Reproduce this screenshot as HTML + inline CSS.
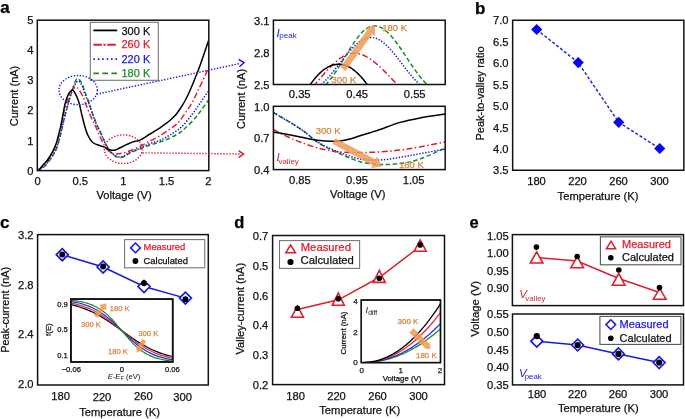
<!DOCTYPE html>
<html><head><meta charset="utf-8"><style>
html,body{margin:0;padding:0;background:#fff;width:685px;height:419px;overflow:hidden}
svg{display:block;will-change:transform}
text{font-family:"Liberation Sans",sans-serif}
</style></head><body>
<svg width="685" height="419" viewBox="0 0 685 419">
<rect width="685" height="419" fill="#fff"/>
<text x="4.90" y="13.09" font-size="17" text-anchor="middle" fill="#000" stroke="#000" stroke-width="0.25" font-weight="bold" font-style="normal">a</text>
<clipPath id="ca"><rect x="37.3" y="20.2" width="171.5" height="150.4"/></clipPath>
<g clip-path="url(#ca)">
<path d="M37.30,170.60 C37.92,170.27 39.72,169.37 41.00,168.60 C42.28,167.83 43.57,167.40 45.00,166.00 C46.43,164.60 48.27,162.03 49.60,160.20 C50.93,158.37 51.93,156.73 53.00,155.00 C54.07,153.27 55.17,151.63 56.00,149.80 C56.83,147.97 57.33,146.13 58.00,144.00 C58.67,141.87 59.33,139.58 60.00,137.00 C60.67,134.42 61.33,131.43 62.00,128.50 C62.67,125.57 63.33,122.23 64.00,119.40 C64.67,116.57 65.33,113.98 66.00,111.50 C66.67,109.02 67.33,106.92 68.00,104.50 C68.67,102.08 69.33,99.25 70.00,97.00 C70.67,94.75 71.25,93.30 72.00,91.00 C72.75,88.70 73.80,85.10 74.50,83.20 C75.20,81.30 75.68,80.33 76.20,79.60 C76.72,78.87 77.08,78.80 77.60,78.80 C78.12,78.80 78.50,78.65 79.30,79.60 C80.10,80.55 81.40,82.25 82.40,84.50 C83.40,86.75 84.18,90.07 85.30,93.10 C86.42,96.13 87.98,99.55 89.10,102.70 C90.22,105.85 90.85,108.70 92.00,112.00 C93.15,115.30 94.67,119.33 96.00,122.50 C97.33,125.67 98.67,128.08 100.00,131.00 C101.33,133.92 102.67,137.17 104.00,140.00 C105.33,142.83 106.67,145.75 108.00,148.00 C109.33,150.25 110.67,152.07 112.00,153.50 C113.33,154.93 114.53,155.93 116.00,156.60 C117.47,157.27 119.30,157.60 120.80,157.50 C122.30,157.40 123.47,156.75 125.00,156.00 C126.53,155.25 127.50,154.17 130.00,153.00 C132.50,151.83 136.67,150.33 140.00,149.00 C143.33,147.67 146.67,146.17 150.00,145.00 C153.33,143.83 156.67,143.17 160.00,142.00 C163.33,140.83 166.67,139.58 170.00,138.00 C173.33,136.42 177.50,134.12 180.00,132.50 C182.50,130.88 182.50,130.67 185.00,128.30 C187.50,125.93 192.33,121.27 195.00,118.30 C197.67,115.33 198.92,113.30 201.00,110.50 C203.08,107.70 206.20,103.33 207.50,101.50 C208.80,99.67 208.58,99.83 208.80,99.50" fill="none" stroke="#1f8a2a" stroke-width="1.5" stroke-dasharray="4.5,2.5"/>
<path d="M37.30,170.60 C37.92,170.22 39.72,169.15 41.00,168.30 C42.28,167.45 43.57,166.88 45.00,165.50 C46.43,164.12 48.27,161.75 49.60,160.00 C50.93,158.25 51.93,156.75 53.00,155.00 C54.07,153.25 55.17,151.42 56.00,149.50 C56.83,147.58 57.33,145.67 58.00,143.50 C58.67,141.33 59.33,139.08 60.00,136.50 C60.67,133.92 61.33,130.92 62.00,128.00 C62.67,125.08 63.33,121.75 64.00,119.00 C64.67,116.25 65.33,113.92 66.00,111.50 C66.67,109.08 67.33,106.83 68.00,104.50 C68.67,102.17 69.33,99.67 70.00,97.50 C70.67,95.33 71.25,93.50 72.00,91.50 C72.75,89.50 73.75,87.08 74.50,85.50 C75.25,83.92 75.92,82.72 76.50,82.00 C77.08,81.28 77.42,81.17 78.00,81.20 C78.58,81.23 79.23,81.23 80.00,82.20 C80.77,83.17 81.72,84.87 82.60,87.00 C83.48,89.13 84.22,92.17 85.30,95.00 C86.38,97.83 87.98,101.08 89.10,104.00 C90.22,106.92 90.85,109.25 92.00,112.50 C93.15,115.75 94.50,119.92 96.00,123.50 C97.50,127.08 99.33,130.42 101.00,134.00 C102.67,137.58 104.33,141.92 106.00,145.00 C107.67,148.08 109.33,150.67 111.00,152.50 C112.67,154.33 114.37,155.25 116.00,156.00 C117.63,156.75 119.30,157.08 120.80,157.00 C122.30,156.92 123.47,156.33 125.00,155.50 C126.53,154.67 127.50,153.22 130.00,152.00 C132.50,150.78 136.67,149.62 140.00,148.20 C143.33,146.78 146.67,144.83 150.00,143.50 C153.33,142.17 156.67,141.62 160.00,140.20 C163.33,138.78 166.38,137.25 170.00,135.00 C173.62,132.75 178.08,130.03 181.70,126.70 C185.32,123.37 188.65,118.90 191.70,115.00 C194.75,111.10 197.37,107.05 200.00,103.30 C202.63,99.55 206.03,94.63 207.50,92.50 C208.97,90.37 208.58,90.83 208.80,90.50" fill="none" stroke="#1a1ad6" stroke-width="1.5" stroke-dasharray="1.4,1.6"/>
<path d="M37.30,170.60 C37.75,170.33 39.05,169.85 40.00,169.00 C40.95,168.15 41.93,166.67 43.00,165.50 C44.07,164.33 45.32,163.33 46.40,162.00 C47.48,160.67 48.43,159.17 49.50,157.50 C50.57,155.83 51.88,153.67 52.80,152.00 C53.72,150.33 54.33,149.00 55.00,147.50 C55.67,146.00 56.17,145.00 56.80,143.00 C57.43,141.00 58.13,138.08 58.80,135.50 C59.47,132.92 60.13,130.42 60.80,127.50 C61.47,124.58 62.13,121.17 62.80,118.00 C63.47,114.83 63.93,111.67 64.80,108.50 C65.67,105.33 66.88,101.92 68.00,99.00 C69.12,96.08 70.42,92.92 71.50,91.00 C72.58,89.08 73.58,88.07 74.50,87.50 C75.42,86.93 76.17,87.10 77.00,87.60 C77.83,88.10 78.55,89.10 79.50,90.50 C80.45,91.90 81.53,93.42 82.70,96.00 C83.87,98.58 85.13,102.55 86.50,106.00 C87.87,109.45 89.47,113.52 90.90,116.70 C92.33,119.88 93.90,122.52 95.10,125.10 C96.30,127.68 97.03,129.72 98.10,132.20 C99.17,134.68 100.35,137.62 101.50,140.00 C102.65,142.38 103.75,144.58 105.00,146.50 C106.25,148.42 107.67,150.33 109.00,151.50 C110.33,152.67 111.67,153.08 113.00,153.50 C114.33,153.92 115.83,153.98 117.00,154.00 C118.17,154.02 118.67,153.83 120.00,153.60 C121.33,153.37 123.33,153.07 125.00,152.60 C126.67,152.13 127.50,151.82 130.00,150.80 C132.50,149.78 136.67,148.13 140.00,146.50 C143.33,144.87 146.67,142.78 150.00,141.00 C153.33,139.22 156.67,137.80 160.00,135.80 C163.33,133.80 166.95,131.22 170.00,129.00 C173.05,126.78 175.80,125.12 178.30,122.50 C180.80,119.88 182.77,116.50 185.00,113.30 C187.23,110.10 189.48,107.18 191.70,103.30 C193.92,99.42 195.95,94.88 198.30,90.00 C200.65,85.12 204.05,77.75 205.80,74.00 C207.55,70.25 208.30,68.58 208.80,67.50" fill="none" stroke="#dc1f2e" stroke-width="1.5" stroke-dasharray="6,2.5,1.5,2.5"/>
<path d="M37.30,170.60 C37.75,170.27 39.05,169.53 40.00,168.60 C40.95,167.67 41.93,166.18 43.00,165.00 C44.07,163.82 45.32,162.83 46.40,161.50 C47.48,160.17 48.43,158.68 49.50,157.00 C50.57,155.32 51.88,153.15 52.80,151.40 C53.72,149.65 54.33,148.10 55.00,146.50 C55.67,144.90 56.17,143.88 56.80,141.80 C57.43,139.72 58.13,136.67 58.80,134.00 C59.47,131.33 60.13,128.88 60.80,125.80 C61.47,122.72 62.13,118.97 62.80,115.50 C63.47,112.03 64.13,107.92 64.80,105.00 C65.47,102.08 66.02,100.08 66.80,98.00 C67.58,95.92 68.57,93.85 69.50,92.50 C70.43,91.15 71.48,89.82 72.40,89.90 C73.32,89.98 74.15,91.57 75.00,93.00 C75.85,94.43 76.77,96.67 77.50,98.50 C78.23,100.33 78.65,101.17 79.40,104.00 C80.15,106.83 81.07,111.67 82.00,115.50 C82.93,119.33 84.00,123.67 85.00,127.00 C86.00,130.33 86.72,132.92 88.00,135.50 C89.28,138.08 90.72,140.82 92.70,142.50 C94.68,144.18 98.02,144.85 99.90,145.60 C101.78,146.35 102.57,146.40 104.00,147.00 C105.43,147.60 107.17,148.65 108.50,149.20 C109.83,149.75 110.83,150.17 112.00,150.30 C113.17,150.43 114.17,150.42 115.50,150.00 C116.83,149.58 117.85,148.83 120.00,147.80 C122.15,146.77 125.90,144.88 128.40,143.80 C130.90,142.72 133.07,141.92 135.00,141.30 C136.93,140.68 137.50,141.32 140.00,140.10 C142.50,138.88 146.67,136.05 150.00,134.00 C153.33,131.95 157.33,129.55 160.00,127.80 C162.67,126.05 164.17,124.88 166.00,123.50 C167.83,122.12 169.33,121.00 171.00,119.50 C172.67,118.00 174.33,116.50 176.00,114.50 C177.67,112.50 179.33,110.08 181.00,107.50 C182.67,104.92 184.50,101.83 186.00,99.00 C187.50,96.17 188.50,93.92 190.00,90.50 C191.50,87.08 193.33,82.67 195.00,78.50 C196.67,74.33 198.42,69.83 200.00,65.50 C201.58,61.17 203.03,56.75 204.50,52.50 C205.97,48.25 208.08,42.08 208.80,40.00" fill="none" stroke="#000" stroke-width="1.5"/>
</g>
<rect x="37.30" y="20.20" width="171.50" height="150.40" fill="none" stroke="#111" stroke-width="1.5"/>
<text x="33.50" y="174.61" font-size="11.2" text-anchor="end" fill="#111" stroke="#111" stroke-width="0.25" font-weight="normal" font-style="normal">0</text>
<text x="33.50" y="144.53" font-size="11.2" text-anchor="end" fill="#111" stroke="#111" stroke-width="0.25" font-weight="normal" font-style="normal">1</text>
<text x="33.50" y="114.45" font-size="11.2" text-anchor="end" fill="#111" stroke="#111" stroke-width="0.25" font-weight="normal" font-style="normal">2</text>
<text x="33.50" y="84.37" font-size="11.2" text-anchor="end" fill="#111" stroke="#111" stroke-width="0.25" font-weight="normal" font-style="normal">3</text>
<text x="33.50" y="54.29" font-size="11.2" text-anchor="end" fill="#111" stroke="#111" stroke-width="0.25" font-weight="normal" font-style="normal">4</text>
<text x="33.50" y="24.21" font-size="11.2" text-anchor="end" fill="#111" stroke="#111" stroke-width="0.25" font-weight="normal" font-style="normal">5</text>
<text x="37.50" y="185.21" font-size="11.2" text-anchor="middle" fill="#111" stroke="#111" stroke-width="0.25" font-weight="normal" font-style="normal">0</text>
<text x="80.30" y="185.21" font-size="11.2" text-anchor="middle" fill="#111" stroke="#111" stroke-width="0.25" font-weight="normal" font-style="normal">0.5</text>
<text x="123.30" y="185.21" font-size="11.2" text-anchor="middle" fill="#111" stroke="#111" stroke-width="0.25" font-weight="normal" font-style="normal">1</text>
<text x="166.50" y="185.21" font-size="11.2" text-anchor="middle" fill="#111" stroke="#111" stroke-width="0.25" font-weight="normal" font-style="normal">1.5</text>
<text x="208.30" y="185.21" font-size="11.2" text-anchor="middle" fill="#111" stroke="#111" stroke-width="0.25" font-weight="normal" font-style="normal">2</text>
<text x="124.10" y="199.31" font-size="11.2" text-anchor="middle" fill="#111" stroke="#111" stroke-width="0.25" font-weight="normal" font-style="normal">Voltage (V)</text>
<text x="0" y="0" font-size="11" text-anchor="middle" fill="#111" stroke="#111" stroke-width="0.25" font-weight="normal" transform="translate(18.39 96.00) rotate(-90)">Current (nA)</text>
<rect x="90.30" y="22.30" width="68.00" height="58.00" fill="#fff" stroke="#777" stroke-width="1.1"/>
<line x1="93.4" y1="30.40" x2="117.2" y2="30.40" stroke="#000" stroke-width="1.8"/>
<text x="121.50" y="34.84" font-size="11" text-anchor="start" fill="#111" stroke="#111" stroke-width="0.25" font-weight="normal" font-style="normal">300 K</text>
<line x1="93.4" y1="44.75" x2="117.2" y2="44.75" stroke="#dc1f2e" stroke-width="1.8" stroke-dasharray="8.5,1.6,2.2,1.6"/>
<text x="121.50" y="47.69" font-size="11" text-anchor="start" fill="#dc1f2e" stroke="#dc1f2e" stroke-width="0.25" font-weight="normal" font-style="normal">260 K</text>
<line x1="93.4" y1="59.10" x2="117.2" y2="59.10" stroke="#1a1ad6" stroke-width="1.8" stroke-dasharray="1.6,2.8"/>
<text x="121.50" y="63.04" font-size="11" text-anchor="start" fill="#1a1ad6" stroke="#1a1ad6" stroke-width="0.25" font-weight="normal" font-style="normal">220 K</text>
<line x1="93.4" y1="73.45" x2="117.2" y2="73.45" stroke="#1f8a2a" stroke-width="1.8" stroke-dasharray="5.6,3.4"/>
<text x="121.50" y="77.39" font-size="11" text-anchor="start" fill="#1f8a2a" stroke="#1f8a2a" stroke-width="0.25" font-weight="normal" font-style="normal">180 K</text>
<ellipse cx="78.2" cy="90.1" rx="19.2" ry="14.6" fill="none" stroke="#1a1ad6" stroke-width="1.4" stroke-dasharray="1.4,1.6"/>
<ellipse cx="123.3" cy="149.2" rx="19" ry="14.3" fill="none" stroke="#dc1f2e" stroke-width="1.4" stroke-dasharray="1.4,1.6"/>
<line x1="96.6" y1="94.2" x2="240" y2="63.5" stroke="#1a1ad6" stroke-width="1.4" stroke-dasharray="1.4,1.6"/>
<path d="M238.6,59.4 L244,62.7 L239.4,66.8" fill="none" stroke="#1a1ad6" stroke-width="1.5"/>
<line x1="142.3" y1="152.8" x2="240" y2="154" stroke="#dc1f2e" stroke-width="1.4" stroke-dasharray="1.4,1.6"/>
<path d="M238.6,150.6 L243.5,154.1 L238.6,157.6" fill="none" stroke="#dc1f2e" stroke-width="1.5"/>
<clipPath id="cu"><rect x="273.4" y="20.2" width="171.8" height="64.3"/></clipPath>
<g clip-path="url(#cu)">
<path d="M273.40,142.03 C273.76,141.64 274.83,140.47 275.55,139.68 C276.26,138.90 276.98,138.12 277.69,137.34 C278.41,136.55 279.13,135.77 279.84,134.99 C280.56,134.20 281.27,133.42 281.99,132.64 C282.71,131.85 283.42,131.07 284.14,130.29 C284.85,129.51 285.57,128.72 286.28,127.94 C287.00,127.16 287.72,126.37 288.43,125.59 C289.15,124.81 289.86,124.02 290.58,123.24 C291.30,122.46 292.01,121.68 292.73,120.89 C293.44,120.11 294.16,119.33 294.88,118.54 C295.59,117.76 296.31,116.98 297.02,116.20 C297.74,115.41 298.45,114.63 299.17,113.85 C299.89,113.06 300.60,112.28 301.32,111.50 C302.03,110.71 302.75,109.93 303.46,109.15 C304.18,108.37 304.90,107.58 305.61,106.80 C306.33,106.02 307.04,105.23 307.76,104.45 C308.48,103.67 309.19,102.88 309.91,102.10 C310.62,101.32 311.34,100.54 312.05,99.75 C312.77,98.97 313.49,98.19 314.20,97.40 C314.92,96.62 315.63,95.84 316.35,95.06 C317.07,94.27 317.78,93.49 318.50,92.71 C319.21,91.92 319.93,91.14 320.64,90.36 C321.36,89.57 322.08,88.79 322.79,88.01 C323.51,87.23 324.22,86.45 324.94,85.66 C325.66,84.87 326.37,84.11 327.09,83.28 C327.80,82.46 328.52,81.61 329.23,80.72 C329.95,79.84 330.67,78.91 331.38,77.96 C332.10,77.01 332.81,76.02 333.53,75.01 C334.25,73.99 334.96,72.95 335.68,71.88 C336.39,70.81 337.11,69.72 337.82,68.61 C338.54,67.49 339.26,66.35 339.97,65.21 C340.69,64.06 341.40,62.89 342.12,61.72 C342.84,60.55 343.55,59.36 344.27,58.18 C344.98,57.00 345.70,55.81 346.41,54.63 C347.13,53.45 347.85,52.27 348.56,51.11 C349.28,49.94 349.99,48.79 350.71,47.66 C351.43,46.52 352.14,45.41 352.86,44.32 C353.57,43.24 354.29,42.17 355.00,41.14 C355.72,40.12 356.44,39.12 357.15,38.17 C357.87,37.22 358.58,36.30 359.30,35.44 C360.02,34.58 360.73,33.75 361.45,32.99 C362.16,32.23 362.88,31.51 363.59,30.86 C364.31,30.20 365.03,29.60 365.74,29.07 C366.46,28.53 367.17,28.06 367.89,27.65 C368.61,27.24 369.32,26.90 370.04,26.62 C370.75,26.35 371.47,26.14 372.18,26.00 C372.90,25.87 373.62,25.80 374.33,25.80 C375.05,25.80 375.76,25.86 376.48,25.98 C377.20,26.10 377.91,26.28 378.63,26.51 C379.34,26.75 380.06,27.04 380.77,27.39 C381.49,27.73 382.21,28.14 382.92,28.59 C383.64,29.05 384.35,29.56 385.07,30.12 C385.79,30.68 386.50,31.29 387.22,31.94 C387.93,32.60 388.65,33.30 389.37,34.04 C390.08,34.78 390.80,35.57 391.51,36.40 C392.23,37.22 392.94,38.08 393.66,38.97 C394.38,39.87 395.09,40.80 395.81,41.75 C396.52,42.70 397.24,43.68 397.95,44.68 C398.67,45.68 399.39,46.71 400.10,47.75 C400.82,48.79 401.53,49.85 402.25,50.91 C402.97,51.97 403.68,53.05 404.40,54.13 C405.11,55.21 405.83,56.30 406.54,57.39 C407.26,58.47 407.98,59.56 408.69,60.64 C409.41,61.72 410.12,62.79 410.84,63.86 C411.56,64.92 412.27,65.97 412.99,67.01 C413.70,68.04 414.42,69.07 415.13,70.07 C415.85,71.07 416.57,72.06 417.28,73.02 C418.00,73.98 418.71,74.93 419.43,75.84 C420.15,76.75 420.86,77.65 421.58,78.51 C422.29,79.37 423.01,80.21 423.72,81.01 C424.44,81.82 425.16,82.59 425.87,83.35 C426.59,84.10 427.30,84.80 428.02,85.52 C428.74,86.24 429.45,86.96 430.17,87.68 C430.88,88.39 431.60,89.11 432.31,89.83 C433.03,90.55 433.75,91.26 434.46,91.98 C435.18,92.70 435.89,93.42 436.61,94.13 C437.33,94.85 438.04,95.57 438.76,96.29 C439.47,97.00 440.19,97.72 440.90,98.44 C441.62,99.16 442.34,99.87 443.05,100.59 C443.77,101.31 444.84,102.39 445.20,102.74" fill="none" stroke="#1f8a2a" stroke-width="1.5" stroke-dasharray="4.5,2.5"/>
<path d="M273.40,130.17 C273.76,129.83 274.83,128.81 275.55,128.13 C276.26,127.45 276.98,126.77 277.69,126.09 C278.41,125.41 279.13,124.73 279.84,124.05 C280.56,123.37 281.27,122.69 281.99,122.01 C282.71,121.33 283.42,120.66 284.14,119.98 C284.85,119.30 285.57,118.62 286.28,117.94 C287.00,117.26 287.72,116.58 288.43,115.90 C289.15,115.22 289.86,114.54 290.58,113.86 C291.30,113.18 292.01,112.50 292.73,111.82 C293.44,111.14 294.16,110.46 294.88,109.78 C295.59,109.10 296.31,108.42 297.02,107.74 C297.74,107.06 298.45,106.38 299.17,105.70 C299.89,105.02 300.60,104.34 301.32,103.66 C302.03,102.98 302.75,102.30 303.46,101.62 C304.18,100.94 304.90,100.26 305.61,99.59 C306.33,98.91 307.04,98.23 307.76,97.55 C308.48,96.87 309.19,96.19 309.91,95.51 C310.62,94.83 311.34,94.15 312.05,93.47 C312.77,92.79 313.49,92.11 314.20,91.43 C314.92,90.75 315.63,90.07 316.35,89.39 C317.07,88.71 317.78,88.03 318.50,87.35 C319.21,86.67 319.93,86.00 320.64,85.31 C321.36,84.63 322.08,83.96 322.79,83.25 C323.51,82.54 324.22,81.82 324.94,81.07 C325.66,80.32 326.37,79.55 327.09,78.76 C327.80,77.98 328.52,77.17 329.23,76.34 C329.95,75.52 330.67,74.67 331.38,73.82 C332.10,72.96 332.81,72.09 333.53,71.20 C334.25,70.32 334.96,69.42 335.68,68.52 C336.39,67.62 337.11,66.71 337.82,65.79 C338.54,64.88 339.26,63.96 339.97,63.04 C340.69,62.13 341.40,61.20 342.12,60.29 C342.84,59.38 343.55,58.47 344.27,57.58 C344.98,56.68 345.70,55.79 346.41,54.92 C347.13,54.05 347.85,53.19 348.56,52.36 C349.28,51.53 349.99,50.71 350.71,49.92 C351.43,49.13 352.14,48.36 352.86,47.62 C353.57,46.89 354.29,46.18 355.00,45.51 C355.72,44.83 356.44,44.19 357.15,43.59 C357.87,42.99 358.58,42.43 359.30,41.91 C360.02,41.39 360.73,40.90 361.45,40.47 C362.16,40.03 362.88,39.64 363.59,39.30 C364.31,38.96 365.03,38.66 365.74,38.41 C366.46,38.17 367.17,37.97 367.89,37.82 C368.61,37.67 369.32,37.58 370.04,37.53 C370.75,37.49 371.47,37.49 372.18,37.55 C372.90,37.61 373.62,37.72 374.33,37.88 C375.05,38.05 375.76,38.27 376.48,38.53 C377.20,38.80 377.91,39.12 378.63,39.49 C379.34,39.85 380.06,40.27 380.77,40.73 C381.49,41.19 382.21,41.70 382.92,42.25 C383.64,42.80 384.35,43.40 385.07,44.03 C385.79,44.66 386.50,45.33 387.22,46.04 C387.93,46.74 388.65,47.48 389.37,48.25 C390.08,49.01 390.80,49.82 391.51,50.64 C392.23,51.46 392.94,52.31 393.66,53.17 C394.38,54.04 395.09,54.92 395.81,55.82 C396.52,56.72 397.24,57.64 397.95,58.56 C398.67,59.48 399.39,60.41 400.10,61.34 C400.82,62.28 401.53,63.22 402.25,64.15 C402.97,65.09 403.68,66.03 404.40,66.96 C405.11,67.88 405.83,68.81 406.54,69.72 C407.26,70.63 407.98,71.54 408.69,72.43 C409.41,73.32 410.12,74.20 410.84,75.06 C411.56,75.92 412.27,76.76 412.99,77.58 C413.70,78.41 414.42,79.21 415.13,79.99 C415.85,80.78 416.57,81.54 417.28,82.28 C418.00,83.02 418.71,83.73 419.43,84.43 C420.15,85.14 420.86,85.82 421.58,86.51 C422.29,87.21 423.01,87.90 423.72,88.59 C424.44,89.29 425.16,89.98 425.87,90.68 C426.59,91.37 427.30,92.06 428.02,92.76 C428.74,93.45 429.45,94.14 430.17,94.84 C430.88,95.53 431.60,96.22 432.31,96.92 C433.03,97.61 433.75,98.31 434.46,99.00 C435.18,99.69 435.89,100.39 436.61,101.08 C437.33,101.77 438.04,102.47 438.76,103.16 C439.47,103.86 440.19,104.55 440.90,105.24 C441.62,105.94 442.34,106.63 443.05,107.32 C443.77,108.02 444.84,109.06 445.20,109.41" fill="none" stroke="#1a1ad6" stroke-width="1.5" stroke-dasharray="1.4,1.6"/>
<path d="M273.40,134.58 C273.76,134.15 274.83,132.86 275.55,131.99 C276.26,131.13 276.98,130.27 277.69,129.41 C278.41,128.55 279.13,127.69 279.84,126.82 C280.56,125.96 281.27,125.10 281.99,124.24 C282.71,123.38 283.42,122.52 284.14,121.65 C284.85,120.79 285.57,119.93 286.28,119.07 C287.00,118.21 287.72,117.34 288.43,116.48 C289.15,115.62 289.86,114.76 290.58,113.90 C291.30,113.04 292.01,112.17 292.73,111.31 C293.44,110.45 294.16,109.59 294.88,108.73 C295.59,107.87 296.31,107.00 297.02,106.14 C297.74,105.28 298.45,104.42 299.17,103.56 C299.89,102.70 300.60,101.83 301.32,100.97 C302.03,100.11 302.75,99.25 303.46,98.39 C304.18,97.52 304.90,96.66 305.61,95.80 C306.33,94.94 307.04,94.08 307.76,93.22 C308.48,92.35 309.19,91.49 309.91,90.63 C310.62,89.77 311.34,88.91 312.05,88.05 C312.77,87.18 313.49,86.32 314.20,85.46 C314.92,84.60 315.63,83.74 316.35,82.88 C317.07,82.02 317.78,81.17 318.50,80.32 C319.21,79.48 319.93,78.63 320.64,77.80 C321.36,76.96 322.08,76.13 322.79,75.31 C323.51,74.49 324.22,73.67 324.94,72.87 C325.66,72.07 326.37,71.27 327.09,70.49 C327.80,69.71 328.52,68.94 329.23,68.19 C329.95,67.44 330.67,66.70 331.38,65.98 C332.10,65.26 332.81,64.56 333.53,63.89 C334.25,63.21 334.96,62.55 335.68,61.92 C336.39,61.30 337.11,60.69 337.82,60.12 C338.54,59.54 339.26,58.99 339.97,58.48 C340.69,57.97 341.40,57.48 342.12,57.04 C342.84,56.59 343.55,56.18 344.27,55.80 C344.98,55.43 345.70,55.09 346.41,54.80 C347.13,54.50 347.85,54.24 348.56,54.03 C349.28,53.81 349.99,53.64 350.71,53.50 C351.43,53.37 352.14,53.28 352.86,53.24 C353.57,53.19 354.29,53.19 355.00,53.22 C355.72,53.26 356.44,53.33 357.15,53.43 C357.87,53.53 358.58,53.67 359.30,53.85 C360.02,54.02 360.73,54.23 361.45,54.47 C362.16,54.71 362.88,54.99 363.59,55.29 C364.31,55.60 365.03,55.94 365.74,56.30 C366.46,56.67 367.17,57.07 367.89,57.50 C368.61,57.92 369.32,58.38 370.04,58.86 C370.75,59.34 371.47,59.84 372.18,60.37 C372.90,60.90 373.62,61.46 374.33,62.03 C375.05,62.60 375.76,63.20 376.48,63.81 C377.20,64.42 377.91,65.05 378.63,65.70 C379.34,66.35 380.06,67.01 380.77,67.69 C381.49,68.36 382.21,69.05 382.92,69.75 C383.64,70.45 384.35,71.17 385.07,71.89 C385.79,72.61 386.50,73.34 387.22,74.08 C387.93,74.81 388.65,75.56 389.37,76.31 C390.08,77.06 390.80,77.82 391.51,78.58 C392.23,79.34 392.94,80.11 393.66,80.88 C394.38,81.65 395.09,82.42 395.81,83.20 C396.52,83.98 397.24,84.76 397.95,85.54 C398.67,86.32 399.39,87.11 400.10,87.89 C400.82,88.67 401.53,89.45 402.25,90.23 C402.97,91.01 403.68,91.80 404.40,92.58 C405.11,93.36 405.83,94.14 406.54,94.92 C407.26,95.70 407.98,96.48 408.69,97.27 C409.41,98.05 410.12,98.83 410.84,99.61 C411.56,100.39 412.27,101.17 412.99,101.96 C413.70,102.74 414.42,103.52 415.13,104.30 C415.85,105.08 416.57,105.86 417.28,106.65 C418.00,107.43 418.71,108.21 419.43,108.99 C420.15,109.77 420.86,110.55 421.58,111.34 C422.29,112.12 423.01,112.90 423.72,113.68 C424.44,114.46 425.16,115.24 425.87,116.02 C426.59,116.81 427.30,117.59 428.02,118.37 C428.74,119.15 429.45,119.93 430.17,120.71 C430.88,121.50 431.60,122.28 432.31,123.06 C433.03,123.84 433.75,124.62 434.46,125.40 C435.18,126.19 435.89,126.97 436.61,127.75 C437.33,128.53 438.04,129.31 438.76,130.09 C439.47,130.87 440.19,131.66 440.90,132.44 C441.62,133.22 442.34,134.00 443.05,134.78 C443.77,135.56 444.84,136.74 445.20,137.13" fill="none" stroke="#dc1f2e" stroke-width="1.5" stroke-dasharray="6,2.5,1.5,2.5"/>
<path d="M273.40,173.15 C273.76,171.98 274.83,168.40 275.55,166.08 C276.26,163.77 276.98,161.49 277.69,159.25 C278.41,157.01 279.13,154.82 279.84,152.66 C280.56,150.50 281.27,148.38 281.99,146.30 C282.71,144.22 283.42,142.18 284.14,140.18 C284.85,138.18 285.57,136.21 286.28,134.29 C287.00,132.37 287.72,130.49 288.43,128.65 C289.15,126.80 289.86,125.00 290.58,123.24 C291.30,121.47 292.01,119.75 292.73,118.06 C293.44,116.38 294.16,114.73 294.88,113.13 C295.59,111.52 296.31,109.96 297.02,108.43 C297.74,106.90 298.45,105.42 299.17,103.97 C299.89,102.52 300.60,101.11 301.32,99.74 C302.03,98.37 302.75,97.05 303.46,95.76 C304.18,94.47 304.90,93.22 305.61,92.01 C306.33,90.80 307.04,89.62 307.76,88.49 C308.48,87.36 309.19,86.27 309.91,85.22 C310.62,84.17 311.34,83.15 312.05,82.18 C312.77,81.21 313.49,80.27 314.20,79.38 C314.92,78.48 315.63,77.63 316.35,76.81 C317.07,76.00 317.78,75.22 318.50,74.49 C319.21,73.75 319.93,73.05 320.64,72.40 C321.36,71.74 322.08,71.12 322.79,70.54 C323.51,69.96 324.22,69.43 324.94,68.93 C325.66,68.43 326.37,67.97 327.09,67.55 C327.80,67.13 328.52,66.75 329.23,66.41 C329.95,66.07 330.67,65.76 331.38,65.50 C332.10,65.24 332.81,65.02 333.53,64.84 C334.25,64.65 334.96,64.51 335.68,64.40 C336.39,64.30 337.11,64.24 337.82,64.21 C338.54,64.19 339.26,64.20 339.97,64.25 C340.69,64.31 341.40,64.40 342.12,64.53 C342.84,64.65 343.55,64.82 344.27,65.03 C344.98,65.23 345.70,65.47 346.41,65.75 C347.13,66.04 347.85,66.36 348.56,66.71 C349.28,67.07 349.99,67.47 350.71,67.90 C351.43,68.33 352.14,68.81 352.86,69.32 C353.57,69.83 354.29,70.37 355.00,70.96 C355.72,71.55 356.44,72.17 357.15,72.83 C357.87,73.50 358.58,74.20 359.30,74.94 C360.02,75.68 360.73,76.45 361.45,77.27 C362.16,78.08 362.88,78.94 363.59,79.83 C364.31,80.72 365.03,81.65 365.74,82.62 C366.46,83.59 367.17,84.59 367.89,85.64 C368.61,86.68 369.32,87.76 370.04,88.88 C370.75,90.00 371.47,91.16 372.18,92.36 C372.90,93.56 373.62,94.79 374.33,96.07 C375.05,97.34 375.76,98.65 376.48,100.00 C377.20,101.35 377.91,102.74 378.63,104.16 C379.34,105.59 380.06,107.05 380.77,108.55 C381.49,110.06 382.21,111.60 382.92,113.17 C383.64,114.75 384.35,116.37 385.07,118.02 C385.79,119.68 386.50,121.37 387.22,123.10 C387.93,124.83 388.65,126.60 389.37,128.41 C390.08,130.22 390.80,132.06 391.51,133.95 C392.23,135.83 392.94,137.75 393.66,139.71 C394.38,141.67 395.09,143.67 395.81,145.71 C396.52,147.74 397.24,149.82 397.95,151.93 C398.67,154.04 399.39,156.19 400.10,158.38 C400.82,160.57 401.53,162.80 402.25,165.06 C402.97,167.33 403.68,169.63 404.40,171.97 C405.11,174.31 405.83,176.69 406.54,179.11 C407.26,181.53 407.98,183.98 408.69,186.48 C409.41,188.97 410.12,191.50 410.84,194.07 C411.56,196.64 412.27,199.25 412.99,201.90 C413.70,204.55 414.42,207.23 415.13,209.95 C415.85,212.68 416.57,215.44 417.28,218.24 C418.00,221.04 418.71,223.87 419.43,226.75 C420.15,229.62 420.86,232.54 421.58,235.49 C422.29,238.44 423.01,241.43 423.72,244.46 C424.44,247.49 425.16,250.55 425.87,253.66 C426.59,256.76 427.30,259.91 428.02,263.09 C428.74,266.27 429.45,269.49 430.17,272.74 C430.88,276.00 431.60,279.29 432.31,282.63 C433.03,285.96 433.75,289.33 434.46,292.74 C435.18,296.15 435.89,299.60 436.61,303.09 C437.33,306.57 438.04,310.10 438.76,313.66 C439.47,317.22 440.19,320.82 440.90,324.46 C441.62,328.10 442.34,331.77 443.05,335.49 C443.77,339.20 444.84,344.87 445.20,346.75" fill="none" stroke="#000" stroke-width="1.5"/>
</g>
<rect x="273.40" y="20.20" width="171.80" height="64.30" fill="none" stroke="#111" stroke-width="1.5"/>
<text x="269.50" y="24.61" font-size="11.2" text-anchor="end" fill="#111" stroke="#111" stroke-width="0.25" font-weight="normal" font-style="normal">3.1</text>
<text x="269.50" y="56.71" font-size="11.2" text-anchor="end" fill="#111" stroke="#111" stroke-width="0.25" font-weight="normal" font-style="normal">2.8</text>
<text x="269.50" y="88.51" font-size="11.2" text-anchor="end" fill="#111" stroke="#111" stroke-width="0.25" font-weight="normal" font-style="normal">2.5</text>
<text x="299.70" y="98.01" font-size="11.2" text-anchor="middle" fill="#111" stroke="#111" stroke-width="0.25" font-weight="normal" font-style="normal">0.35</text>
<text x="357.20" y="98.01" font-size="11.2" text-anchor="middle" fill="#111" stroke="#111" stroke-width="0.25" font-weight="normal" font-style="normal">0.45</text>
<text x="414.70" y="98.01" font-size="11.2" text-anchor="middle" fill="#111" stroke="#111" stroke-width="0.25" font-weight="normal" font-style="normal">0.55</text>
<text x="276.6" y="36.5" font-size="11.5" fill="#1a1ad6" font-style="italic">I</text><text x="279.3" y="37.6" font-size="8" fill="#1a1ad6">peak</text>
<path d="M345.63,70.91 L372.33,34.19 L374.96,36.10 L375.00,25.00 L364.45,28.46 L367.08,30.37 L340.37,67.09Z" fill="#ef9a55" fill-opacity="0.85"/>
<text x="343.90" y="82.85" font-size="9.5" text-anchor="middle" fill="#d4843c" stroke="#d4843c" stroke-width="0.25" font-weight="normal" font-style="normal">300 K</text>
<text x="394.70" y="30.75" font-size="9.5" text-anchor="middle" fill="#d4843c" stroke="#d4843c" stroke-width="0.25" font-weight="normal" font-style="normal">180 K</text>
<clipPath id="cl"><rect x="273.4" y="106.3" width="171.8" height="63.3"/></clipPath>
<g clip-path="url(#cl)">
<path d="M273.40,112.50 C277.83,115.18 292.23,123.38 300.00,128.60 C307.77,133.82 313.33,139.62 320.00,143.80 C326.67,147.98 333.33,150.72 340.00,153.70 C346.67,156.68 353.33,159.92 360.00,161.70 C366.67,163.48 373.33,164.10 380.00,164.40 C386.67,164.70 393.33,164.40 400.00,163.50 C406.67,162.60 412.47,161.58 420.00,159.00 C427.53,156.42 441.00,149.83 445.20,148.00" fill="none" stroke="#1f8a2a" stroke-width="1.5" stroke-dasharray="4.5,2.5"/>
<path d="M273.40,112.50 C277.83,115.18 292.23,123.43 300.00,128.60 C307.77,133.77 313.33,139.52 320.00,143.50 C326.67,147.48 333.33,149.92 340.00,152.50 C346.67,155.08 353.33,157.75 360.00,159.00 C366.67,160.25 373.33,160.28 380.00,160.00 C386.67,159.72 393.33,158.35 400.00,157.30 C406.67,156.25 412.47,155.08 420.00,153.70 C427.53,152.32 441.00,149.78 445.20,149.00" fill="none" stroke="#1a1ad6" stroke-width="1.5" stroke-dasharray="1.4,1.6"/>
<path d="M273.40,129.50 C275.33,130.50 280.57,133.42 285.00,135.50 C289.43,137.58 294.17,139.83 300.00,142.00 C305.83,144.17 313.33,146.83 320.00,148.50 C326.67,150.17 333.33,151.33 340.00,152.00 C346.67,152.67 353.33,152.52 360.00,152.50 C366.67,152.48 373.33,152.30 380.00,151.90 C386.67,151.50 393.33,150.93 400.00,150.10 C406.67,149.27 412.47,148.25 420.00,146.90 C427.53,145.55 441.00,142.82 445.20,142.00" fill="none" stroke="#dc1f2e" stroke-width="1.5" stroke-dasharray="6,2.5,1.5,2.5"/>
<path d="M273.40,132.20 C275.33,132.50 280.57,133.20 285.00,134.00 C289.43,134.80 295.83,136.17 300.00,137.00 C304.17,137.83 306.67,138.42 310.00,139.00 C313.33,139.58 316.67,140.13 320.00,140.50 C323.33,140.87 326.67,141.12 330.00,141.20 C333.33,141.28 336.67,141.37 340.00,141.00 C343.33,140.63 346.67,139.87 350.00,139.00 C353.33,138.13 356.67,136.85 360.00,135.80 C363.33,134.75 366.67,133.75 370.00,132.70 C373.33,131.65 375.00,131.22 380.00,129.50 C385.00,127.78 393.33,124.33 400.00,122.40 C406.67,120.47 412.47,119.30 420.00,117.90 C427.53,116.50 441.00,114.65 445.20,114.00" fill="none" stroke="#000" stroke-width="1.5"/>
</g>
<rect x="273.40" y="106.30" width="171.80" height="63.30" fill="none" stroke="#111" stroke-width="1.5"/>
<text x="269.50" y="110.61" font-size="11.2" text-anchor="end" fill="#111" stroke="#111" stroke-width="0.25" font-weight="normal" font-style="normal">1.0</text>
<text x="269.50" y="142.11" font-size="11.2" text-anchor="end" fill="#111" stroke="#111" stroke-width="0.25" font-weight="normal" font-style="normal">0.7</text>
<text x="269.50" y="173.71" font-size="11.2" text-anchor="end" fill="#111" stroke="#111" stroke-width="0.25" font-weight="normal" font-style="normal">0.4</text>
<text x="299.80" y="183.61" font-size="11.2" text-anchor="middle" fill="#111" stroke="#111" stroke-width="0.25" font-weight="normal" font-style="normal">0.85</text>
<text x="357.00" y="183.61" font-size="11.2" text-anchor="middle" fill="#111" stroke="#111" stroke-width="0.25" font-weight="normal" font-style="normal">0.95</text>
<text x="413.60" y="183.61" font-size="11.2" text-anchor="middle" fill="#111" stroke="#111" stroke-width="0.25" font-weight="normal" font-style="normal">1.05</text>
<text x="357.80" y="197.51" font-size="11.2" text-anchor="middle" fill="#111" stroke="#111" stroke-width="0.25" font-weight="normal" font-style="normal">Voltage (V)</text>
<text x="0" y="0" font-size="10.9" text-anchor="middle" fill="#111" stroke="#111" stroke-width="0.25" font-weight="normal" transform="translate(244.70 98.95) rotate(-90)">Current (nA)</text>
<text x="276.6" y="160.5" font-size="11.5" fill="#dc1f2e" font-style="italic">I</text><text x="278.4" y="163.9" font-size="8" fill="#dc1f2e">valley</text>
<path d="M332.48,143.87 L372.53,165.15 L371.00,168.02 L382.00,166.50 L377.10,156.54 L375.58,159.41 L335.52,138.13Z" fill="#ef9a55" fill-opacity="0.85"/>
<text x="328.15" y="133.60" font-size="9.5" text-anchor="middle" fill="#d4843c" stroke="#d4843c" stroke-width="0.25" font-weight="normal" font-style="normal">300 K</text>
<text x="411.35" y="167.80" font-size="9.5" text-anchor="middle" fill="#d4843c" stroke="#d4843c" stroke-width="0.25" font-weight="normal" font-style="normal">180 K</text>
<text x="480.20" y="13.89" font-size="17" text-anchor="middle" fill="#000" stroke="#000" stroke-width="0.25" font-weight="bold" font-style="normal">b</text>
<rect x="512.65" y="20.26" width="171.20" height="150.00" fill="none" stroke="#111" stroke-width="1.5"/>
<text x="508.50" y="24.41" font-size="11.2" text-anchor="end" fill="#111" stroke="#111" stroke-width="0.25" font-weight="normal" font-style="normal">7.0</text>
<text x="508.50" y="45.84" font-size="11.2" text-anchor="end" fill="#111" stroke="#111" stroke-width="0.25" font-weight="normal" font-style="normal">6.5</text>
<text x="508.50" y="67.27" font-size="11.2" text-anchor="end" fill="#111" stroke="#111" stroke-width="0.25" font-weight="normal" font-style="normal">6.0</text>
<text x="508.50" y="88.70" font-size="11.2" text-anchor="end" fill="#111" stroke="#111" stroke-width="0.25" font-weight="normal" font-style="normal">5.5</text>
<text x="508.50" y="110.13" font-size="11.2" text-anchor="end" fill="#111" stroke="#111" stroke-width="0.25" font-weight="normal" font-style="normal">5.0</text>
<text x="508.50" y="131.56" font-size="11.2" text-anchor="end" fill="#111" stroke="#111" stroke-width="0.25" font-weight="normal" font-style="normal">4.5</text>
<text x="508.50" y="152.99" font-size="11.2" text-anchor="end" fill="#111" stroke="#111" stroke-width="0.25" font-weight="normal" font-style="normal">4.0</text>
<text x="508.50" y="174.42" font-size="11.2" text-anchor="end" fill="#111" stroke="#111" stroke-width="0.25" font-weight="normal" font-style="normal">3.5</text>
<text x="536.50" y="185.01" font-size="11.2" text-anchor="middle" fill="#111" stroke="#111" stroke-width="0.25" font-weight="normal" font-style="normal">180</text>
<text x="577.50" y="185.01" font-size="11.2" text-anchor="middle" fill="#111" stroke="#111" stroke-width="0.25" font-weight="normal" font-style="normal">220</text>
<text x="618.50" y="185.01" font-size="11.2" text-anchor="middle" fill="#111" stroke="#111" stroke-width="0.25" font-weight="normal" font-style="normal">260</text>
<text x="659.50" y="185.01" font-size="11.2" text-anchor="middle" fill="#111" stroke="#111" stroke-width="0.25" font-weight="normal" font-style="normal">300</text>
<text x="598.00" y="200.21" font-size="11.2" text-anchor="middle" fill="#111" stroke="#111" stroke-width="0.25" font-weight="normal" font-style="normal">Temperature (K)</text>
<text x="0" y="0" font-size="11" text-anchor="middle" fill="#111" stroke="#111" stroke-width="0.25" font-weight="normal" transform="translate(484.04 93.50) rotate(-90)">Peak-to-valley ratio</text>
<polyline points="536.7,29.5 578.2,62.6 618.7,122.3 659.7,148.5" fill="none" stroke="#2a2ac0" stroke-width="1.5" stroke-dasharray="3,2"/>
<path d="M531.1,29.5 L536.7,23.9 L542.3000000000001,29.5 L536.7,35.1Z" fill="#0505f0"/>
<path d="M572.6,62.6 L578.2,57.0 L583.8000000000001,62.6 L578.2,68.2Z" fill="#0505f0"/>
<path d="M613.1,122.3 L618.7,116.7 L624.3000000000001,122.3 L618.7,127.89999999999999Z" fill="#0505f0"/>
<path d="M654.1,148.5 L659.7,142.9 L665.3000000000001,148.5 L659.7,154.1Z" fill="#0505f0"/>
<text x="4.80" y="227.59" font-size="17" text-anchor="middle" fill="#000" stroke="#000" stroke-width="0.25" font-weight="bold" font-style="normal">c</text>
<rect x="37.60" y="234.60" width="170.70" height="150.40" fill="none" stroke="#111" stroke-width="1.5"/>
<text x="33.50" y="239.21" font-size="11.2" text-anchor="end" fill="#111" stroke="#111" stroke-width="0.25" font-weight="normal" font-style="normal">3.2</text>
<text x="33.50" y="288.61" font-size="11.2" text-anchor="end" fill="#111" stroke="#111" stroke-width="0.25" font-weight="normal" font-style="normal">2.8</text>
<text x="33.50" y="338.01" font-size="11.2" text-anchor="end" fill="#111" stroke="#111" stroke-width="0.25" font-weight="normal" font-style="normal">2.4</text>
<text x="33.50" y="387.61" font-size="11.2" text-anchor="end" fill="#111" stroke="#111" stroke-width="0.25" font-weight="normal" font-style="normal">2.0</text>
<text x="60.60" y="400.11" font-size="11.2" text-anchor="middle" fill="#111" stroke="#111" stroke-width="0.25" font-weight="normal" font-style="normal">180</text>
<text x="102.00" y="401.31" font-size="11.2" text-anchor="middle" fill="#111" stroke="#111" stroke-width="0.25" font-weight="normal" font-style="normal">220</text>
<text x="143.30" y="400.11" font-size="11.2" text-anchor="middle" fill="#111" stroke="#111" stroke-width="0.25" font-weight="normal" font-style="normal">260</text>
<text x="182.70" y="401.31" font-size="11.2" text-anchor="middle" fill="#111" stroke="#111" stroke-width="0.25" font-weight="normal" font-style="normal">300</text>
<text x="119.60" y="415.51" font-size="11.2" text-anchor="middle" fill="#111" stroke="#111" stroke-width="0.25" font-weight="normal" font-style="normal">Temperature (K)</text>
<text x="0" y="0" font-size="10.9" text-anchor="middle" fill="#111" stroke="#111" stroke-width="0.25" font-weight="normal" transform="translate(9.20 309.90) rotate(-90)">Peak-current (nA)</text>
<polyline points="62.3,254.7 103.1,267 144,286.5 185.4,298.1" fill="none" stroke="#1a1ad6" stroke-width="1.5"/>
<path d="M56.30,254.70 L62.30,248.70 L68.30,254.70 L62.30,260.70Z" fill="#fff" stroke="#1a1ad6" stroke-width="1.7"/>
<path d="M97.10,267.00 L103.10,261.00 L109.10,267.00 L103.10,273.00Z" fill="#fff" stroke="#1a1ad6" stroke-width="1.7"/>
<path d="M138.00,286.50 L144.00,280.50 L150.00,286.50 L144.00,292.50Z" fill="#fff" stroke="#1a1ad6" stroke-width="1.7"/>
<path d="M179.40,298.10 L185.40,292.10 L191.40,298.10 L185.40,304.10Z" fill="#fff" stroke="#1a1ad6" stroke-width="1.7"/>
<circle cx="62.30" cy="254.50" r="3.0" fill="#000"/>
<circle cx="103.10" cy="266.50" r="3.0" fill="#000"/>
<circle cx="144.00" cy="283.20" r="3.0" fill="#000"/>
<circle cx="185.40" cy="299.20" r="3.0" fill="#000"/>
<rect x="124.60" y="239.60" width="80.10" height="28.20" fill="#fff" stroke="#777" stroke-width="1.1"/>
<path d="M130.60,247.90 L135.50,243.00 L140.40,247.90 L135.50,252.80Z" fill="#fff" stroke="#1a1ad6" stroke-width="1.5"/>
<circle cx="135.40" cy="261.00" r="2.9" fill="#000"/>
<text x="143.60" y="249.97" font-size="9.4" text-anchor="start" fill="#dc1f2e" stroke="#dc1f2e" stroke-width="0.25" font-weight="normal" font-style="normal">Measured</text>
<text x="143.60" y="263.67" font-size="9.4" text-anchor="start" fill="#111" stroke="#111" stroke-width="0.25" font-weight="normal" font-style="normal">Calculated</text>
<rect x="70.90" y="299.10" width="101.80" height="62.80" fill="#fff" stroke="#111" stroke-width="1.6"/>
<clipPath id="cci"><rect x="70.9" y="299.1" width="101.8" height="62.8"/></clipPath>
<g clip-path="url(#cci)">
<path d="M70.90,304.63 C71.32,304.73 72.60,305.04 73.45,305.26 C74.29,305.48 75.14,305.70 75.99,305.95 C76.84,306.19 77.69,306.44 78.54,306.70 C79.38,306.96 80.23,307.24 81.08,307.52 C81.93,307.81 82.78,308.11 83.62,308.42 C84.47,308.73 85.32,309.05 86.17,309.39 C87.02,309.73 87.87,310.08 88.72,310.44 C89.56,310.81 90.41,311.18 91.26,311.57 C92.11,311.96 92.96,312.37 93.81,312.79 C94.65,313.21 95.50,313.64 96.35,314.08 C97.20,314.53 98.05,314.99 98.90,315.46 C99.74,315.93 100.59,316.42 101.44,316.91 C102.29,317.41 103.14,317.92 103.99,318.44 C104.83,318.96 105.68,319.50 106.53,320.04 C107.38,320.59 108.23,321.14 109.08,321.71 C109.92,322.27 110.77,322.84 111.62,323.42 C112.47,324.01 113.32,324.59 114.17,325.19 C115.01,325.78 115.86,326.39 116.71,326.99 C117.56,327.59 118.41,328.20 119.25,328.81 C120.10,329.42 120.95,330.04 121.80,330.65 C122.65,331.26 123.50,331.88 124.34,332.49 C125.19,333.10 126.04,333.71 126.89,334.31 C127.74,334.91 128.59,335.52 129.44,336.11 C130.28,336.71 131.13,337.29 131.98,337.88 C132.83,338.46 133.68,339.03 134.53,339.59 C135.37,340.16 136.22,340.71 137.07,341.26 C137.92,341.80 138.77,342.34 139.62,342.86 C140.46,343.38 141.31,343.89 142.16,344.39 C143.01,344.88 143.86,345.37 144.70,345.84 C145.55,346.31 146.40,346.77 147.25,347.22 C148.10,347.66 148.95,348.09 149.80,348.51 C150.64,348.93 151.49,349.34 152.34,349.73 C153.19,350.12 154.04,350.49 154.88,350.86 C155.73,351.22 156.58,351.57 157.43,351.91 C158.28,352.25 159.13,352.57 159.98,352.88 C160.82,353.19 161.67,353.49 162.52,353.78 C163.37,354.06 164.22,354.34 165.06,354.60 C165.91,354.86 166.76,355.11 167.61,355.35 C168.46,355.60 169.31,355.82 170.16,356.04 C171.00,356.26 172.28,356.57 172.70,356.67" fill="none" stroke="#000" stroke-width="1.2"/>
<path d="M70.90,303.04 C71.32,303.13 72.60,303.39 73.45,303.58 C74.29,303.77 75.14,303.97 75.99,304.18 C76.84,304.40 77.69,304.62 78.54,304.86 C79.38,305.10 80.23,305.35 81.08,305.62 C81.93,305.89 82.78,306.16 83.62,306.46 C84.47,306.76 85.32,307.07 86.17,307.39 C87.02,307.72 87.87,308.06 88.72,308.42 C89.56,308.78 90.41,309.15 91.26,309.55 C92.11,309.94 92.96,310.35 93.81,310.78 C94.65,311.21 95.50,311.66 96.35,312.12 C97.20,312.59 98.05,313.07 98.90,313.57 C99.74,314.08 100.59,314.60 101.44,315.13 C102.29,315.67 103.14,316.23 103.99,316.80 C104.83,317.37 105.68,317.96 106.53,318.56 C107.38,319.17 108.23,319.79 109.08,320.42 C109.92,321.05 110.77,321.70 111.62,322.36 C112.47,323.02 113.32,323.69 114.17,324.37 C115.01,325.05 115.86,325.74 116.71,326.43 C117.56,327.13 118.41,327.83 119.25,328.53 C120.10,329.23 120.95,329.94 121.80,330.65 C122.65,331.36 123.50,332.07 124.34,332.77 C125.19,333.47 126.04,334.17 126.89,334.87 C127.74,335.56 128.59,336.25 129.44,336.93 C130.28,337.61 131.13,338.28 131.98,338.94 C132.83,339.60 133.68,340.25 134.53,340.88 C135.37,341.51 136.22,342.13 137.07,342.74 C137.92,343.34 138.77,343.93 139.62,344.50 C140.46,345.07 141.31,345.63 142.16,346.17 C143.01,346.70 143.86,347.22 144.70,347.73 C145.55,348.23 146.40,348.71 147.25,349.18 C148.10,349.64 148.95,350.09 149.80,350.52 C150.64,350.95 151.49,351.36 152.34,351.75 C153.19,352.15 154.04,352.52 154.88,352.88 C155.73,353.24 156.58,353.58 157.43,353.91 C158.28,354.23 159.13,354.54 159.98,354.84 C160.82,355.14 161.67,355.41 162.52,355.68 C163.37,355.95 164.22,356.20 165.06,356.44 C165.91,356.68 166.76,356.90 167.61,357.12 C168.46,357.33 169.31,357.53 170.16,357.72 C171.00,357.91 172.28,358.17 172.70,358.26" fill="none" stroke="#e0303a" stroke-width="1.2"/>
<path d="M70.90,301.53 C71.32,301.60 72.60,301.80 73.45,301.95 C74.29,302.10 75.14,302.26 75.99,302.43 C76.84,302.61 77.69,302.79 78.54,302.99 C79.38,303.19 80.23,303.40 81.08,303.63 C81.93,303.86 82.78,304.10 83.62,304.36 C84.47,304.62 85.32,304.90 86.17,305.20 C87.02,305.49 87.87,305.81 88.72,306.14 C89.56,306.48 90.41,306.84 91.26,307.22 C92.11,307.59 92.96,307.99 93.81,308.42 C94.65,308.84 95.50,309.29 96.35,309.76 C97.20,310.24 98.05,310.73 98.90,311.26 C99.74,311.78 100.59,312.33 101.44,312.90 C102.29,313.47 103.14,314.07 103.99,314.70 C104.83,315.32 105.68,315.97 106.53,316.64 C107.38,317.32 108.23,318.01 109.08,318.73 C109.92,319.45 110.77,320.19 111.62,320.94 C112.47,321.70 113.32,322.48 114.17,323.27 C115.01,324.06 115.86,324.86 116.71,325.68 C117.56,326.49 118.41,327.32 119.25,328.15 C120.10,328.98 120.95,329.82 121.80,330.65 C122.65,331.48 123.50,332.32 124.34,333.15 C125.19,333.98 126.04,334.81 126.89,335.62 C127.74,336.44 128.59,337.24 129.44,338.03 C130.28,338.82 131.13,339.60 131.98,340.36 C132.83,341.11 133.68,341.85 134.53,342.57 C135.37,343.29 136.22,343.98 137.07,344.66 C137.92,345.33 138.77,345.98 139.62,346.60 C140.46,347.23 141.31,347.83 142.16,348.40 C143.01,348.97 143.86,349.52 144.70,350.04 C145.55,350.57 146.40,351.06 147.25,351.54 C148.10,352.01 148.95,352.46 149.80,352.88 C150.64,353.31 151.49,353.71 152.34,354.08 C153.19,354.46 154.04,354.82 154.88,355.16 C155.73,355.49 156.58,355.81 157.43,356.10 C158.28,356.40 159.13,356.68 159.98,356.94 C160.82,357.20 161.67,357.44 162.52,357.67 C163.37,357.90 164.22,358.11 165.06,358.31 C165.91,358.51 166.76,358.69 167.61,358.87 C168.46,359.04 169.31,359.20 170.16,359.35 C171.00,359.50 172.28,359.70 172.70,359.77" fill="none" stroke="#2a2ae0" stroke-width="1.2"/>
<path d="M70.90,300.26 C71.32,300.30 72.60,300.43 73.45,300.53 C74.29,300.63 75.14,300.73 75.99,300.85 C76.84,300.97 77.69,301.10 78.54,301.24 C79.38,301.39 80.23,301.54 81.08,301.71 C81.93,301.88 82.78,302.06 83.62,302.26 C84.47,302.47 85.32,302.68 86.17,302.92 C87.02,303.16 87.87,303.42 88.72,303.71 C89.56,303.99 90.41,304.29 91.26,304.63 C92.11,304.96 92.96,305.32 93.81,305.71 C94.65,306.10 95.50,306.51 96.35,306.97 C97.20,307.42 98.05,307.90 98.90,308.42 C99.74,308.94 100.59,309.49 101.44,310.08 C102.29,310.67 103.14,311.30 103.99,311.97 C104.83,312.64 105.68,313.34 106.53,314.08 C107.38,314.82 108.23,315.61 109.08,316.42 C109.92,317.23 110.77,318.09 111.62,318.97 C112.47,319.85 113.32,320.77 114.17,321.71 C115.01,322.64 115.86,323.61 116.71,324.60 C117.56,325.58 118.41,326.59 119.25,327.60 C120.10,328.60 120.95,329.63 121.80,330.65 C122.65,331.67 123.50,332.70 124.34,333.70 C125.19,334.71 126.04,335.72 126.89,336.70 C127.74,337.69 128.59,338.66 129.44,339.59 C130.28,340.53 131.13,341.45 131.98,342.33 C132.83,343.21 133.68,344.07 134.53,344.88 C135.37,345.69 136.22,346.48 137.07,347.22 C137.92,347.96 138.77,348.66 139.62,349.33 C140.46,350.00 141.31,350.63 142.16,351.22 C143.01,351.81 143.86,352.36 144.70,352.88 C145.55,353.40 146.40,353.88 147.25,354.33 C148.10,354.79 148.95,355.20 149.80,355.59 C150.64,355.98 151.49,356.34 152.34,356.67 C153.19,357.01 154.04,357.31 154.88,357.59 C155.73,357.88 156.58,358.14 157.43,358.38 C158.28,358.62 159.13,358.83 159.98,359.04 C160.82,359.24 161.67,359.42 162.52,359.59 C163.37,359.76 164.22,359.91 165.06,360.06 C165.91,360.20 166.76,360.33 167.61,360.45 C168.46,360.57 169.31,360.67 170.16,360.77 C171.00,360.87 172.28,361.00 172.70,361.04" fill="none" stroke="#228a22" stroke-width="1.2"/>
</g>
<rect x="70.90" y="299.10" width="101.80" height="62.80" fill="none" stroke="#111" stroke-width="1.6"/>
<text x="67.80" y="306.82" font-size="7.6" text-anchor="end" fill="#111" stroke="#111" stroke-width="0.25" font-weight="normal" font-style="normal">0.9</text>
<text x="67.80" y="332.02" font-size="7.6" text-anchor="end" fill="#111" stroke="#111" stroke-width="0.25" font-weight="normal" font-style="normal">0.5</text>
<text x="67.80" y="357.52" font-size="7.6" text-anchor="end" fill="#111" stroke="#111" stroke-width="0.25" font-weight="normal" font-style="normal">0.1</text>
<text x="71.30" y="372.22" font-size="7.6" text-anchor="middle" fill="#111" stroke="#111" stroke-width="0.25" font-weight="normal" font-style="normal">−0.06</text>
<text x="121.80" y="372.22" font-size="7.6" text-anchor="middle" fill="#111" stroke="#111" stroke-width="0.25" font-weight="normal" font-style="normal">0</text>
<text x="172.30" y="372.22" font-size="7.6" text-anchor="middle" fill="#111" stroke="#111" stroke-width="0.25" font-weight="normal" font-style="normal">0.06</text>
<text x="124" y="378.8" font-size="7.6" text-anchor="middle" fill="#111"><tspan font-style="italic">E</tspan>-<tspan font-style="italic">E</tspan><tspan font-size="5.5" dy="1.5">F</tspan><tspan dy="-1.5"> (eV)</tspan></text>
<text x="0" y="0" font-size="7.8" text-anchor="middle" fill="#111" stroke="#111" stroke-width="0.25" font-weight="normal" transform="translate(51.49 329.60) rotate(-90)">f(E)</text>
<path d="M97.35,318.12 L104.46,309.37 L106.20,310.79 L106.50,303.30 L99.22,305.11 L100.97,306.53 L93.85,315.28Z" fill="#ef9a55" fill-opacity="0.85"/>
<path d="M142.36,338.86 L137.89,346.49 L135.95,345.35 L136.80,352.80 L143.72,349.90 L141.77,348.76 L146.24,341.14Z" fill="#ef9a55" fill-opacity="0.85"/>
<text x="119.70" y="310.72" font-size="7.6" text-anchor="middle" fill="#d4843c" stroke="#d4843c" stroke-width="0.25" font-weight="normal" font-style="normal">180 K</text>
<text x="91.00" y="327.42" font-size="7.6" text-anchor="middle" fill="#d4843c" stroke="#d4843c" stroke-width="0.25" font-weight="normal" font-style="normal">300 K</text>
<text x="148.30" y="336.32" font-size="7.6" text-anchor="middle" fill="#d4843c" stroke="#d4843c" stroke-width="0.25" font-weight="normal" font-style="normal">300 K</text>
<text x="118.00" y="353.52" font-size="7.6" text-anchor="middle" fill="#d4843c" stroke="#d4843c" stroke-width="0.25" font-weight="normal" font-style="normal">180 K</text>
<text x="239.30" y="228.41" font-size="16.5" text-anchor="middle" fill="#000" stroke="#000" stroke-width="0.25" font-weight="bold" font-style="normal">d</text>
<rect x="272.60" y="235.50" width="171.90" height="149.10" fill="none" stroke="#111" stroke-width="1.5"/>
<text x="268.30" y="240.21" font-size="11.2" text-anchor="end" fill="#111" stroke="#111" stroke-width="0.25" font-weight="normal" font-style="normal">0.7</text>
<text x="268.30" y="269.91" font-size="11.2" text-anchor="end" fill="#111" stroke="#111" stroke-width="0.25" font-weight="normal" font-style="normal">0.5</text>
<text x="268.30" y="299.61" font-size="11.2" text-anchor="end" fill="#111" stroke="#111" stroke-width="0.25" font-weight="normal" font-style="normal">0.6</text>
<text x="268.30" y="329.31" font-size="11.2" text-anchor="end" fill="#111" stroke="#111" stroke-width="0.25" font-weight="normal" font-style="normal">0.4</text>
<text x="268.30" y="359.01" font-size="11.2" text-anchor="end" fill="#111" stroke="#111" stroke-width="0.25" font-weight="normal" font-style="normal">0.3</text>
<text x="268.30" y="388.61" font-size="11.2" text-anchor="end" fill="#111" stroke="#111" stroke-width="0.25" font-weight="normal" font-style="normal">0.2</text>
<text x="295.60" y="400.21" font-size="11.2" text-anchor="middle" fill="#111" stroke="#111" stroke-width="0.25" font-weight="normal" font-style="normal">180</text>
<text x="336.50" y="400.21" font-size="11.2" text-anchor="middle" fill="#111" stroke="#111" stroke-width="0.25" font-weight="normal" font-style="normal">220</text>
<text x="377.50" y="400.21" font-size="11.2" text-anchor="middle" fill="#111" stroke="#111" stroke-width="0.25" font-weight="normal" font-style="normal">260</text>
<text x="418.50" y="400.21" font-size="11.2" text-anchor="middle" fill="#111" stroke="#111" stroke-width="0.25" font-weight="normal" font-style="normal">300</text>
<text x="359.70" y="414.41" font-size="11.2" text-anchor="middle" fill="#111" stroke="#111" stroke-width="0.25" font-weight="normal" font-style="normal">Temperature (K)</text>
<text x="0" y="0" font-size="11.1" text-anchor="middle" fill="#111" stroke="#111" stroke-width="0.25" font-weight="normal" transform="translate(243.97 308.75) rotate(-90)">Valley-current (nA)</text>
<polyline points="297.4,309.6 338.3,299.8 379.3,277.5 420.2,246.3" fill="none" stroke="#dc1f2e" stroke-width="1.5"/>
<path d="M297.40,306.20 L303.40,317.20 L291.40,317.20Z" fill="#fff" stroke="#dc1f2e" stroke-width="1.6" stroke-linejoin="miter"/>
<path d="M338.30,293.10 L344.30,305.30 L332.30,305.30Z" fill="#fff" stroke="#dc1f2e" stroke-width="1.6" stroke-linejoin="miter"/>
<path d="M379.30,270.30 L385.30,282.40 L373.30,282.40Z" fill="#fff" stroke="#dc1f2e" stroke-width="1.6" stroke-linejoin="miter"/>
<path d="M420.20,240.00 L426.20,251.20 L414.20,251.20Z" fill="#fff" stroke="#dc1f2e" stroke-width="1.6" stroke-linejoin="miter"/>
<circle cx="297.40" cy="308.30" r="2.8" fill="#000"/>
<circle cx="338.30" cy="298.70" r="2.8" fill="#000"/>
<circle cx="379.30" cy="278.30" r="2.8" fill="#000"/>
<circle cx="420.20" cy="244.90" r="2.8" fill="#000"/>
<rect x="279.50" y="240.60" width="80.10" height="27.80" fill="#fff" stroke="#777" stroke-width="1.1"/>
<path d="M290.60,245.00 L295.40,252.80 L285.80,252.80Z" fill="#fff" stroke="#dc1f2e" stroke-width="1.5" stroke-linejoin="miter"/>
<circle cx="290.50" cy="262.00" r="3.1" fill="#000"/>
<text x="300.70" y="250.85" font-size="11.3" text-anchor="start" fill="#dc1f2e" stroke="#dc1f2e" stroke-width="0.25" font-weight="normal" font-style="normal">Measured</text>
<text x="300.50" y="264.25" font-size="11.3" text-anchor="start" fill="#111" stroke="#111" stroke-width="0.25" font-weight="normal" font-style="normal">Calculated</text>
<rect x="361.30" y="300.00" width="79.20" height="62.60" fill="#fff" stroke="#111" stroke-width="1.4"/>
<clipPath id="cdi"><rect x="361.3" y="300" width="79.2" height="62.6"/></clipPath>
<g clip-path="url(#cdi)">
<path d="M361.30,362.60 C361.63,362.60 362.62,362.60 363.28,362.59 C363.94,362.57 364.60,362.56 365.26,362.54 C365.92,362.52 366.58,362.49 367.24,362.45 C367.90,362.42 368.56,362.38 369.22,362.33 C369.88,362.28 370.54,362.23 371.20,362.17 C371.86,362.11 372.52,362.04 373.18,361.97 C373.84,361.90 374.50,361.82 375.16,361.73 C375.82,361.64 376.48,361.55 377.14,361.45 C377.80,361.35 378.46,361.24 379.12,361.13 C379.78,361.01 380.44,360.89 381.10,360.76 C381.76,360.63 382.42,360.50 383.08,360.35 C383.74,360.21 384.40,360.06 385.06,359.90 C385.72,359.75 386.38,359.58 387.04,359.41 C387.70,359.24 388.36,359.06 389.02,358.87 C389.68,358.69 390.34,358.49 391.00,358.29 C391.66,358.09 392.32,357.88 392.98,357.67 C393.64,357.45 394.30,357.23 394.96,357.00 C395.62,356.76 396.28,356.53 396.94,356.28 C397.60,356.04 398.26,355.78 398.92,355.52 C399.58,355.26 400.24,354.99 400.90,354.72 C401.56,354.44 402.22,354.16 402.88,353.87 C403.54,353.57 404.20,353.28 404.86,352.97 C405.52,352.66 406.18,352.35 406.84,352.03 C407.50,351.70 408.16,351.38 408.82,351.04 C409.48,350.70 410.14,350.36 410.80,350.00 C411.46,349.65 412.12,349.29 412.78,348.92 C413.44,348.55 414.10,348.18 414.76,347.79 C415.42,347.41 416.08,347.02 416.74,346.62 C417.40,346.22 418.06,345.81 418.72,345.40 C419.38,344.98 420.04,344.56 420.70,344.13 C421.36,343.70 422.02,343.26 422.68,342.81 C423.34,342.36 424.00,341.91 424.66,341.45 C425.32,340.98 425.98,340.51 426.64,340.03 C427.30,339.55 427.96,339.07 428.62,338.57 C429.28,338.08 429.94,337.58 430.60,337.07 C431.26,336.55 431.92,336.04 432.58,335.51 C433.24,334.98 433.90,334.45 434.56,333.90 C435.22,333.36 435.88,332.81 436.54,332.25 C437.20,331.69 437.86,331.13 438.52,330.55 C439.18,329.97 440.17,329.09 440.50,328.80" fill="none" stroke="#228a22" stroke-width="1.3"/>
<path d="M361.30,362.60 C361.63,362.60 362.62,362.60 363.28,362.58 C363.94,362.57 364.60,362.55 365.26,362.53 C365.92,362.50 366.58,362.47 367.24,362.43 C367.90,362.39 368.56,362.34 369.22,362.29 C369.88,362.24 370.54,362.17 371.20,362.11 C371.86,362.04 372.52,361.96 373.18,361.87 C373.84,361.79 374.50,361.70 375.16,361.60 C375.82,361.50 376.48,361.39 377.14,361.27 C377.80,361.16 378.46,361.03 379.12,360.90 C379.78,360.77 380.44,360.63 381.10,360.48 C381.76,360.33 382.42,360.17 383.08,360.01 C383.74,359.84 384.40,359.67 385.06,359.49 C385.72,359.31 386.38,359.12 387.04,358.92 C387.70,358.72 388.36,358.51 389.02,358.30 C389.68,358.08 390.34,357.86 391.00,357.63 C391.66,357.40 392.32,357.16 392.98,356.91 C393.64,356.66 394.30,356.40 394.96,356.13 C395.62,355.87 396.28,355.59 396.94,355.31 C397.60,355.03 398.26,354.73 398.92,354.43 C399.58,354.13 400.24,353.82 400.90,353.50 C401.56,353.18 402.22,352.86 402.88,352.52 C403.54,352.19 404.20,351.84 404.86,351.49 C405.52,351.13 406.18,350.77 406.84,350.40 C407.50,350.03 408.16,349.65 408.82,349.26 C409.48,348.87 410.14,348.47 410.80,348.07 C411.46,347.66 412.12,347.24 412.78,346.82 C413.44,346.39 414.10,345.96 414.76,345.52 C415.42,345.07 416.08,344.62 416.74,344.16 C417.40,343.70 418.06,343.23 418.72,342.75 C419.38,342.27 420.04,341.78 420.70,341.28 C421.36,340.79 422.02,340.28 422.68,339.77 C423.34,339.25 424.00,338.72 424.66,338.19 C425.32,337.66 425.98,337.11 426.64,336.56 C427.30,336.01 427.96,335.45 428.62,334.88 C429.28,334.31 429.94,333.73 430.60,333.14 C431.26,332.55 431.92,331.95 432.58,331.34 C433.24,330.73 433.90,330.12 434.56,329.49 C435.22,328.86 435.88,328.23 436.54,327.58 C437.20,326.94 437.86,326.28 438.52,325.62 C439.18,324.96 440.17,323.94 440.50,323.60" fill="none" stroke="#2a2ae0" stroke-width="1.3"/>
<path d="M361.30,362.60 C361.63,362.60 362.62,362.59 363.28,362.58 C363.94,362.56 364.60,362.54 365.26,362.51 C365.92,362.47 366.58,362.43 367.24,362.38 C367.90,362.33 368.56,362.27 369.22,362.20 C369.88,362.13 370.54,362.05 371.20,361.97 C371.86,361.88 372.52,361.78 373.18,361.67 C373.84,361.56 374.50,361.44 375.16,361.31 C375.82,361.18 376.48,361.05 377.14,360.90 C377.80,360.75 378.46,360.59 379.12,360.42 C379.78,360.25 380.44,360.07 381.10,359.88 C381.76,359.69 382.42,359.49 383.08,359.28 C383.74,359.07 384.40,358.84 385.06,358.61 C385.72,358.38 386.38,358.13 387.04,357.88 C387.70,357.63 388.36,357.36 389.02,357.09 C389.68,356.81 390.34,356.52 391.00,356.23 C391.66,355.93 392.32,355.62 392.98,355.30 C393.64,354.98 394.30,354.65 394.96,354.31 C395.62,353.97 396.28,353.62 396.94,353.25 C397.60,352.89 398.26,352.51 398.92,352.13 C399.58,351.74 400.24,351.35 400.90,350.94 C401.56,350.53 402.22,350.11 402.88,349.68 C403.54,349.25 404.20,348.81 404.86,348.35 C405.52,347.90 406.18,347.43 406.84,346.96 C407.50,346.48 408.16,346.00 408.82,345.50 C409.48,345.00 410.14,344.49 410.80,343.97 C411.46,343.44 412.12,342.91 412.78,342.37 C413.44,341.82 414.10,341.26 414.76,340.70 C415.42,340.13 416.08,339.55 416.74,338.96 C417.40,338.37 418.06,337.76 418.72,337.15 C419.38,336.54 420.04,335.91 420.70,335.27 C421.36,334.63 422.02,333.99 422.68,333.32 C423.34,332.66 424.00,331.99 424.66,331.31 C425.32,330.62 425.98,329.93 426.64,329.22 C427.30,328.51 427.96,327.79 428.62,327.06 C429.28,326.33 429.94,325.58 430.60,324.83 C431.26,324.07 431.92,323.30 432.58,322.52 C433.24,321.75 433.90,320.95 434.56,320.15 C435.22,319.35 435.88,318.53 436.54,317.71 C437.20,316.88 437.86,316.04 438.52,315.19 C439.18,314.34 440.17,313.03 440.50,312.60" fill="none" stroke="#e0303a" stroke-width="1.3"/>
<path d="M361.30,362.60 C361.63,362.60 362.62,362.59 363.28,362.57 C363.94,362.56 364.60,362.53 365.26,362.49 C365.92,362.45 366.58,362.40 367.24,362.34 C367.90,362.29 368.56,362.21 369.22,362.13 C369.88,362.05 370.54,361.96 371.20,361.85 C371.86,361.75 372.52,361.63 373.18,361.51 C373.84,361.38 374.50,361.24 375.16,361.09 C375.82,360.94 376.48,360.77 377.14,360.60 C377.80,360.42 378.46,360.24 379.12,360.04 C379.78,359.84 380.44,359.62 381.10,359.40 C381.76,359.18 382.42,358.94 383.08,358.69 C383.74,358.44 384.40,358.18 385.06,357.91 C385.72,357.63 386.38,357.35 387.04,357.05 C387.70,356.75 388.36,356.44 389.02,356.11 C389.68,355.79 390.34,355.45 391.00,355.10 C391.66,354.75 392.32,354.39 392.98,354.02 C393.64,353.64 394.30,353.25 394.96,352.85 C395.62,352.45 396.28,352.03 396.94,351.61 C397.60,351.18 398.26,350.74 398.92,350.29 C399.58,349.83 400.24,349.36 400.90,348.88 C401.56,348.40 402.22,347.91 402.88,347.40 C403.54,346.90 404.20,346.38 404.86,345.85 C405.52,345.31 406.18,344.77 406.84,344.21 C407.50,343.65 408.16,343.07 408.82,342.49 C409.48,341.90 410.14,341.30 410.80,340.69 C411.46,340.07 412.12,339.45 412.78,338.80 C413.44,338.16 414.10,337.51 414.76,336.84 C415.42,336.17 416.08,335.49 416.74,334.80 C417.40,334.10 418.06,333.39 418.72,332.67 C419.38,331.95 420.04,331.21 420.70,330.46 C421.36,329.71 422.02,328.95 422.68,328.17 C423.34,327.39 424.00,326.60 424.66,325.80 C425.32,324.99 425.98,324.17 426.64,323.34 C427.30,322.51 427.96,321.66 428.62,320.80 C429.28,319.94 429.94,319.07 430.60,318.18 C431.26,317.29 431.92,316.39 432.58,315.47 C433.24,314.55 433.90,313.62 434.56,312.68 C435.22,311.74 435.88,310.78 436.54,309.80 C437.20,308.83 437.86,307.85 438.52,306.84 C439.18,305.84 440.17,304.31 440.50,303.80" fill="none" stroke="#000" stroke-width="1.3"/>
</g>
<rect x="361.30" y="300.00" width="79.20" height="62.60" fill="none" stroke="#111" stroke-width="1.4"/>
<text x="357.80" y="303.56" font-size="8" text-anchor="end" fill="#111" stroke="#111" stroke-width="0.25" font-weight="normal" font-style="normal">4</text>
<text x="357.80" y="334.66" font-size="8" text-anchor="end" fill="#111" stroke="#111" stroke-width="0.25" font-weight="normal" font-style="normal">2</text>
<text x="357.80" y="365.46" font-size="8" text-anchor="end" fill="#111" stroke="#111" stroke-width="0.25" font-weight="normal" font-style="normal">0</text>
<text x="361.70" y="373.36" font-size="8" text-anchor="middle" fill="#111" stroke="#111" stroke-width="0.25" font-weight="normal" font-style="normal">0</text>
<text x="400.80" y="373.36" font-size="8" text-anchor="middle" fill="#111" stroke="#111" stroke-width="0.25" font-weight="normal" font-style="normal">1</text>
<text x="440.00" y="373.36" font-size="8" text-anchor="middle" fill="#111" stroke="#111" stroke-width="0.25" font-weight="normal" font-style="normal">2</text>
<text x="402.00" y="381.09" font-size="7.8" text-anchor="middle" fill="#111" stroke="#111" stroke-width="0.25" font-weight="normal" font-style="normal">Voltage (V)</text>
<text x="0" y="0" font-size="7.8" text-anchor="middle" fill="#111" stroke="#111" stroke-width="0.25" font-weight="normal" transform="translate(346.49 333.00) rotate(-90)">Current (nA)</text>
<text x="365.6" y="313.4" font-size="9" fill="#111" font-style="italic">I</text><text x="368.2" y="314.8" font-size="6.8" fill="#111">diff</text>
<path d="M409.31,332.65 L424.82,347.68 L423.95,348.57 L430.50,349.00 L429.87,342.47 L429.00,343.37 L413.49,328.35Z" fill="#ef9a55" fill-opacity="0.85"/>
<text x="408.00" y="323.96" font-size="8" text-anchor="middle" fill="#d4843c" stroke="#d4843c" stroke-width="0.25" font-weight="normal" font-style="normal">300 K</text>
<text x="426.40" y="358.46" font-size="8" text-anchor="middle" fill="#d4843c" stroke="#d4843c" stroke-width="0.25" font-weight="normal" font-style="normal">180 K</text>
<text x="474.20" y="228.31" font-size="16.5" text-anchor="middle" fill="#000" stroke="#000" stroke-width="0.25" font-weight="bold" font-style="normal">e</text>
<rect x="512.40" y="234.60" width="171.10" height="71.00" fill="none" stroke="#111" stroke-width="1.5"/>
<rect x="512.50" y="314.00" width="171.00" height="70.90" fill="none" stroke="#111" stroke-width="1.5"/>
<text x="508.80" y="240.21" font-size="11.2" text-anchor="end" fill="#111" stroke="#111" stroke-width="0.25" font-weight="normal" font-style="normal">1.05</text>
<text x="508.80" y="257.41" font-size="11.2" text-anchor="end" fill="#111" stroke="#111" stroke-width="0.25" font-weight="normal" font-style="normal">1.00</text>
<text x="508.80" y="274.61" font-size="11.2" text-anchor="end" fill="#111" stroke="#111" stroke-width="0.25" font-weight="normal" font-style="normal">0.95</text>
<text x="508.80" y="291.91" font-size="11.2" text-anchor="end" fill="#111" stroke="#111" stroke-width="0.25" font-weight="normal" font-style="normal">0.90</text>
<text x="508.80" y="318.21" font-size="11.2" text-anchor="end" fill="#111" stroke="#111" stroke-width="0.25" font-weight="normal" font-style="normal">0.55</text>
<text x="508.80" y="335.81" font-size="11.2" text-anchor="end" fill="#111" stroke="#111" stroke-width="0.25" font-weight="normal" font-style="normal">0.50</text>
<text x="508.80" y="353.51" font-size="11.2" text-anchor="end" fill="#111" stroke="#111" stroke-width="0.25" font-weight="normal" font-style="normal">0.45</text>
<text x="508.80" y="371.11" font-size="11.2" text-anchor="end" fill="#111" stroke="#111" stroke-width="0.25" font-weight="normal" font-style="normal">0.40</text>
<text x="508.80" y="388.61" font-size="11.2" text-anchor="end" fill="#111" stroke="#111" stroke-width="0.25" font-weight="normal" font-style="normal">0.35</text>
<text x="537.00" y="398.41" font-size="11.2" text-anchor="middle" fill="#111" stroke="#111" stroke-width="0.25" font-weight="normal" font-style="normal">180</text>
<text x="577.40" y="398.41" font-size="11.2" text-anchor="middle" fill="#111" stroke="#111" stroke-width="0.25" font-weight="normal" font-style="normal">220</text>
<text x="618.00" y="398.41" font-size="11.2" text-anchor="middle" fill="#111" stroke="#111" stroke-width="0.25" font-weight="normal" font-style="normal">260</text>
<text x="659.00" y="398.41" font-size="11.2" text-anchor="middle" fill="#111" stroke="#111" stroke-width="0.25" font-weight="normal" font-style="normal">300</text>
<text x="598.30" y="411.91" font-size="11.2" text-anchor="middle" fill="#111" stroke="#111" stroke-width="0.25" font-weight="normal" font-style="normal">Temperature (K)</text>
<text x="0" y="0" font-size="11.3" text-anchor="middle" fill="#111" stroke="#111" stroke-width="0.25" font-weight="normal" transform="translate(478.90 308.90) rotate(-90)">Voltage (V)</text>
<polyline points="536.5,257.5 577.2,261 618.8,278.5 659.5,292.5" fill="none" stroke="#dc1f2e" stroke-width="1.5"/>
<path d="M536.60,251.80 L542.90,263.00 L530.30,263.00Z" fill="#fff" stroke="#dc1f2e" stroke-width="1.6" stroke-linejoin="miter"/>
<path d="M577.20,256.50 L583.50,267.70 L570.90,267.70Z" fill="#fff" stroke="#dc1f2e" stroke-width="1.6" stroke-linejoin="miter"/>
<path d="M618.70,273.50 L625.00,285.20 L612.40,285.20Z" fill="#fff" stroke="#dc1f2e" stroke-width="1.6" stroke-linejoin="miter"/>
<path d="M659.70,288.30 L666.00,299.20 L653.40,299.20Z" fill="#fff" stroke="#dc1f2e" stroke-width="1.6" stroke-linejoin="miter"/>
<circle cx="536.40" cy="247.10" r="2.8" fill="#000"/>
<circle cx="577.20" cy="256.50" r="2.8" fill="#000"/>
<circle cx="618.80" cy="270.00" r="2.8" fill="#000"/>
<circle cx="659.50" cy="287.60" r="2.8" fill="#000"/>
<rect x="600.40" y="236.80" width="80.60" height="28.00" fill="#fff" stroke="#555" stroke-width="1.1"/>
<path d="M611.00,241.20 L615.60,248.80 L606.40,248.80Z" fill="#fff" stroke="#dc1f2e" stroke-width="1.5" stroke-linejoin="miter"/>
<circle cx="610.80" cy="257.70" r="2.8" fill="#000"/>
<text x="622.00" y="247.64" font-size="11" text-anchor="start" fill="#dc1f2e" stroke="#dc1f2e" stroke-width="0.25" font-weight="normal" font-style="normal">Measured</text>
<text x="622.00" y="261.24" font-size="11" text-anchor="start" fill="#111" stroke="#111" stroke-width="0.25" font-weight="normal" font-style="normal">Calculated</text>
<text x="519.3" y="297.7" font-size="11.5" fill="#dc1f2e" font-style="italic">V</text><text x="525.3" y="300.8" font-size="7.9" fill="#dc1f2e">valley</text>
<polyline points="536.8,341.2 577.6,345 618.4,353.9 659.2,362.6" fill="none" stroke="#1a1ad6" stroke-width="1.5"/>
<path d="M530.90,341.20 L536.80,335.30 L542.70,341.20 L536.80,347.10Z" fill="#fff" stroke="#1a1ad6" stroke-width="1.7"/>
<path d="M571.70,345.00 L577.60,339.10 L583.50,345.00 L577.60,350.90Z" fill="#fff" stroke="#1a1ad6" stroke-width="1.7"/>
<path d="M612.50,353.90 L618.40,348.00 L624.30,353.90 L618.40,359.80Z" fill="#fff" stroke="#1a1ad6" stroke-width="1.7"/>
<path d="M653.30,362.60 L659.20,356.70 L665.10,362.60 L659.20,368.50Z" fill="#fff" stroke="#1a1ad6" stroke-width="1.7"/>
<circle cx="536.80" cy="336.10" r="3.1" fill="#000"/>
<circle cx="577.60" cy="345.00" r="3.1" fill="#000"/>
<circle cx="618.40" cy="353.90" r="3.1" fill="#000"/>
<circle cx="659.20" cy="362.60" r="3.1" fill="#000"/>
<rect x="599.90" y="316.40" width="81.00" height="28.00" fill="#fff" stroke="#555" stroke-width="1.1"/>
<path d="M605.90,324.60 L610.80,319.70 L615.70,324.60 L610.80,329.50Z" fill="#fff" stroke="#1a1ad6" stroke-width="1.5"/>
<circle cx="610.80" cy="338.20" r="2.8" fill="#000"/>
<text x="619.60" y="328.34" font-size="11" text-anchor="start" fill="#1a1ad6" stroke="#1a1ad6" stroke-width="0.25" font-weight="normal" font-style="normal">Measured</text>
<text x="619.60" y="341.94" font-size="11" text-anchor="start" fill="#111" stroke="#111" stroke-width="0.25" font-weight="normal" font-style="normal">Calculated</text>
<text x="519.1" y="376.9" font-size="11.5" fill="#1a1ad6" font-style="italic">V</text><text x="524.7" y="379.1" font-size="7.9" fill="#1a1ad6">peak</text>
</svg>
</body></html>
